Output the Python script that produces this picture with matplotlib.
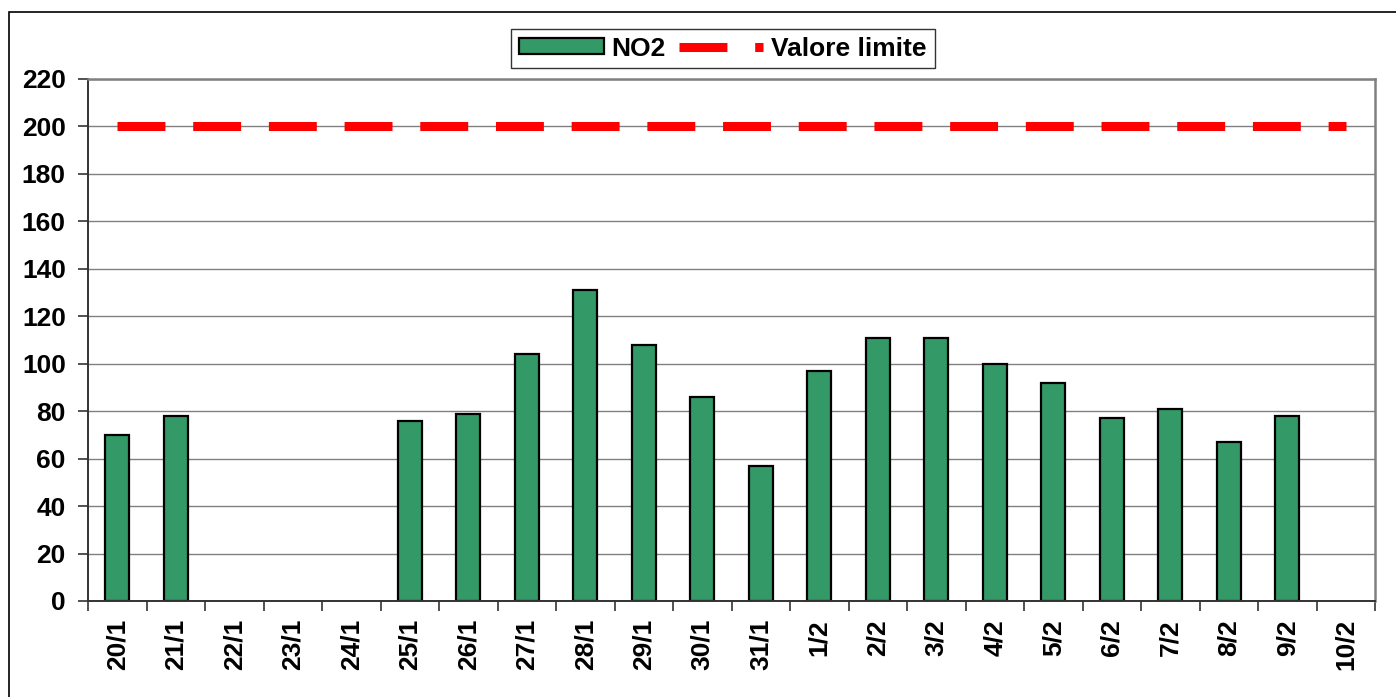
import numpy as np
import matplotlib
matplotlib.use("Agg")
import matplotlib.pyplot as plt
from matplotlib.patches import Rectangle

# Data
days = ["20/1", "21/1", "22/1", "23/1", "24/1", "25/1", "26/1", "27/1", "28/1",
        "29/1", "30/1", "31/1", "1/2", "2/2", "3/2", "4/2", "5/2", "6/2", "7/2",
        "8/2", "9/2", "10/2"]
no2 = [70, 78, np.nan, np.nan, np.nan, 76, 79, 104, 131, 108, 86, 57, 97, 111,
       111, 100, 92, 77, 81, 67, 78, np.nan]
limit = [200] * len(days)
y_ticks = list(range(0, 221, 20))

plt.rcParams['font.family'] = ['Liberation Sans', 'DejaVu Sans']
plt.rcParams['font.weight'] = 'bold'
plt.rcParams['lines.scale_dashes'] = False

FS = 19

fig = plt.figure(figsize=(13.96, 6.97), dpi=100)
ax = fig.add_axes([88 / 1396, 1 - 601 / 697, (1375 - 88) / 1396, (601 - 79) / 697])

x = np.arange(len(days))

# gridlines
for v in y_ticks:
    ax.axhline(v, color="#808080", lw=1.0, zorder=0)

bars = ax.bar(x, no2, width=0.41, color="#339966", edgecolor="black",
              linewidth=1.6, zorder=2, label="NO2")
line, = ax.plot(x, limit, color="#ff0000", lw=6.5, dashes=(34.5, 20),
                solid_capstyle="butt", dash_capstyle="butt", zorder=3,
                label="Valore limite")

ax.set_xlim(-0.5, len(days) - 0.5)
ax.set_ylim(0, 220)
ax.set_yticks(y_ticks)
ax.set_yticklabels([str(v) for v in y_ticks], fontsize=FS, fontweight="bold")
ax.set_xticks(x)
ax.set_xticklabels(days, rotation=90, fontsize=FS, fontweight="bold")
ax.set_xticks(np.arange(-0.5, len(days)), minor=True)
ax.tick_params(axis="x", which="major", length=0, pad=13)
ax.tick_params(axis="x", which="minor", length=7, width=1.2, color="#333333")
ax.tick_params(axis="y", length=7, width=1.2, color="#333333", pad=9)

for s in ["top", "right"]:
    ax.spines[s].set_color("#808080")
    ax.spines[s].set_linewidth(1.8)
for s in ["left", "bottom"]:
    ax.spines[s].set_color("#333333")
    ax.spines[s].set_linewidth(1.4)

leg = fig.legend(handles=[bars, line], loc="center",
                 bbox_to_anchor=(723 / 1396, 1 - 48.5 / 697), ncol=2,
                 fontsize=FS, frameon=True, fancybox=False, handlelength=3.2,
                 handleheight=0.55, columnspacing=0.5, handletextpad=0.3,
                 borderpad=0.3, borderaxespad=0)
leg.get_frame().set_edgecolor("black")
leg.get_frame().set_linewidth(1.0)
for t in leg.get_texts():
    t.set_fontweight("bold")

# outer chart border
fig.patches.append(Rectangle((9 / 1396, -0.05), 1.1, 1 - 12 / 697 + 0.05,
                             transform=fig.transFigure, fill=False,
                             edgecolor="black", linewidth=1.2, zorder=0))

fig.savefig("out.png", dpi=100)
